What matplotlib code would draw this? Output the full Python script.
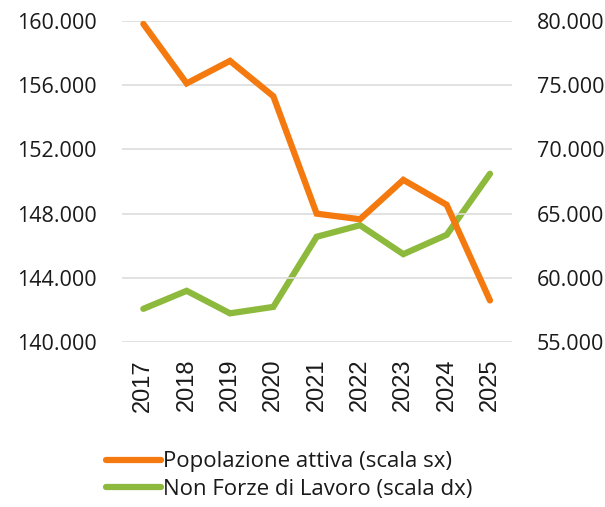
import matplotlib
matplotlib.use("Agg")
import matplotlib.pyplot as plt
from matplotlib.ticker import FuncFormatter

years = ["2017", "2018", "2019", "2020", "2021", "2022", "2023", "2024", "2025"]
popolazione_attiva = [159800, 156100, 157500, 155300, 148000, 147650, 150100, 148550, 142600]
non_forze_lavoro = [57600, 59000, 57250, 57750, 63200, 64100, 61850, 63350, 68100]
left_ticks = [140000, 144000, 148000, 152000, 156000, 160000]
right_ticks = [55000, 60000, 65000, 70000, 75000, 80000]
label_left = "Popolazione attiva (scala sx)"
label_right = "Non Forze di Lavoro (scala dx)"

ORANGE = "#F47A10"
GREEN = "#8DB93C"
TEXT = "#1a1a1a"

plt.rcParams['font.family'] = ['Open Sans', 'DejaVu Sans']

fig = plt.figure(figsize=(6.05, 5.07), dpi=100)
ax = fig.add_axes([0.2011, 0.3249, 0.6446, 0.6343])
ax2 = ax.twinx()

def fmt(v, pos):
    return f"{int(v):,}".replace(",", ".")

x = list(range(len(years)))
l1, = ax.plot(x, popolazione_attiva, color=ORANGE, lw=4.5, solid_capstyle='round', solid_joinstyle='miter', zorder=3)
l2, = ax2.plot(x, non_forze_lavoro, color=GREEN, lw=4.5, solid_capstyle='round', solid_joinstyle='miter', zorder=3)

ax.set_xlim(-0.5, len(years) - 0.5)
ax.set_ylim(140000, 160000)
ax2.set_ylim(55000, 80000)
ax.set_yticks(left_ticks)
ax2.set_yticks(right_ticks)
ax.yaxis.set_major_formatter(FuncFormatter(fmt))
ax2.yaxis.set_major_formatter(FuncFormatter(fmt))
ax.set_xticks(x)
ax.set_xticklabels(years, rotation=90, fontsize=17, color=TEXT,
                   family=['Liberation Sans', 'DejaVu Sans'])

ax.grid(axis='y', color='#DDDDDD', lw=1.2)
ax.set_axisbelow(True)
for a in (ax, ax2):
    for s in a.spines.values():
        s.set_visible(False)
    a.tick_params(length=0)
ax.tick_params(axis='y', labelsize=15.5, labelcolor=TEXT, pad=18)
ax2.tick_params(axis='y', labelsize=15.5, labelcolor=TEXT, pad=18)
ax.tick_params(axis='x', pad=12)

ax.set_zorder(ax2.get_zorder() + 1)
ax.patch.set_visible(False)

fig.legend([l1, l2], [label_left, label_right], loc='upper left',
           bbox_to_anchor=(0.160, 0.127), frameon=False, fontsize=16,
           handlelength=2.5, handletextpad=0.1, labelspacing=0.3,
           borderaxespad=0, labelcolor=TEXT)

fig.savefig("out.png", dpi=100)
